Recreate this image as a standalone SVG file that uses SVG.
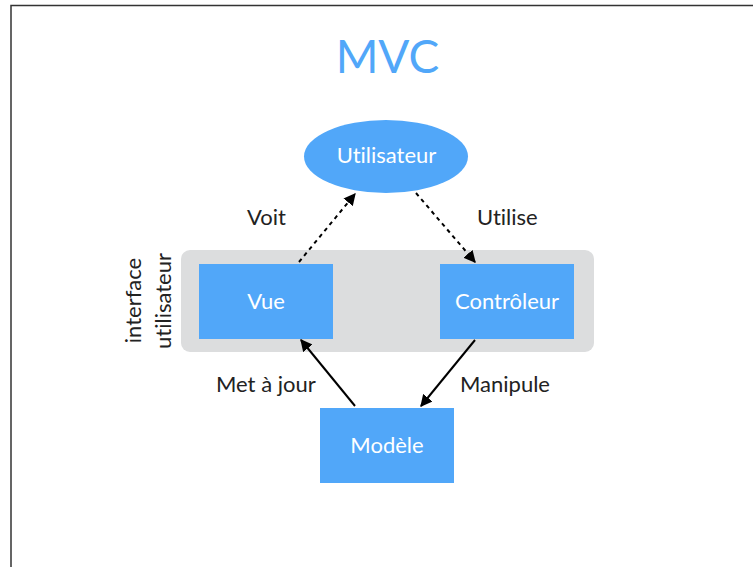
<svg xmlns="http://www.w3.org/2000/svg" width="753" height="567" viewBox="0 0 753 567">
<style>
text{font-variant-ligatures:none;font-feature-settings:"liga" 0}
.node{fill:#51A7F9}
.lbl{font-family:Lato,"Open Sans","DejaVu Sans",sans-serif;font-size:22px;fill:#222}
.wt{font-family:Lato,"Open Sans","DejaVu Sans",sans-serif;font-size:22px;fill:#ffffff;text-anchor:middle}
.edge{stroke:#000;stroke-width:2;fill:none;marker-end:url(#ah)}
.dash{stroke-dasharray:4 4}
</style>
<defs>
<marker id="ah" viewBox="0 0 10 10" refX="9" refY="5" markerWidth="6" markerHeight="6" markerUnits="strokeWidth" orient="auto">
<path d="M0,0 L10,5 L0,10 Z" fill="#000"/>
</marker>
</defs>
<rect width="753" height="567" fill="#fff"/>
<path d="M11,567 V5.5 H753" fill="none" stroke="#333" stroke-width="1.5"/>
<text x="387.5" y="73" text-anchor="middle" font-family="Lato,'Open Sans',sans-serif" font-size="46" fill="#51A7F9">MVC</text>
<g id="interface">
<rect x="181" y="250" width="413" height="102" rx="9" fill="#DCDDDE"/>
<text class="lbl" text-anchor="middle" transform="translate(141,300.5) rotate(-90)">interface</text>
<text class="lbl" text-anchor="middle" transform="translate(171,301) rotate(-90)">utilisateur</text>
</g>
<g id="utilisateur">
<ellipse class="node" cx="386" cy="156.5" rx="82" ry="36.5"/>
<text class="wt" x="386.5" y="163">Utilisateur</text>
</g>
<g id="vue">
<rect class="node" x="199" y="264" width="134" height="75"/>
<text class="wt" x="266" y="309">Vue</text>
</g>
<g id="controleur">
<rect class="node" x="440" y="264" width="134" height="75"/>
<text class="wt" x="507" y="309">Contrôleur</text>
</g>
<g id="modele">
<rect class="node" x="320" y="408" width="134" height="75"/>
<text class="wt" x="387" y="453">Modèle</text>
</g>
<g id="connectors">
<line class="edge dash" x1="299" y1="262" x2="355" y2="194"/>
<line class="edge dash" x1="416" y1="193" x2="475" y2="262"/>
<line class="edge" x1="355" y1="406" x2="301" y2="340"/>
<line class="edge" x1="475" y1="340" x2="421" y2="406"/>
<text class="lbl" x="247" y="225">Voit</text>
<text class="lbl" x="477" y="225">Utilise</text>
<text class="lbl" x="216" y="392">Met à jour</text>
<text class="lbl" x="460" y="392">Manipule</text>
</g>
</svg>
